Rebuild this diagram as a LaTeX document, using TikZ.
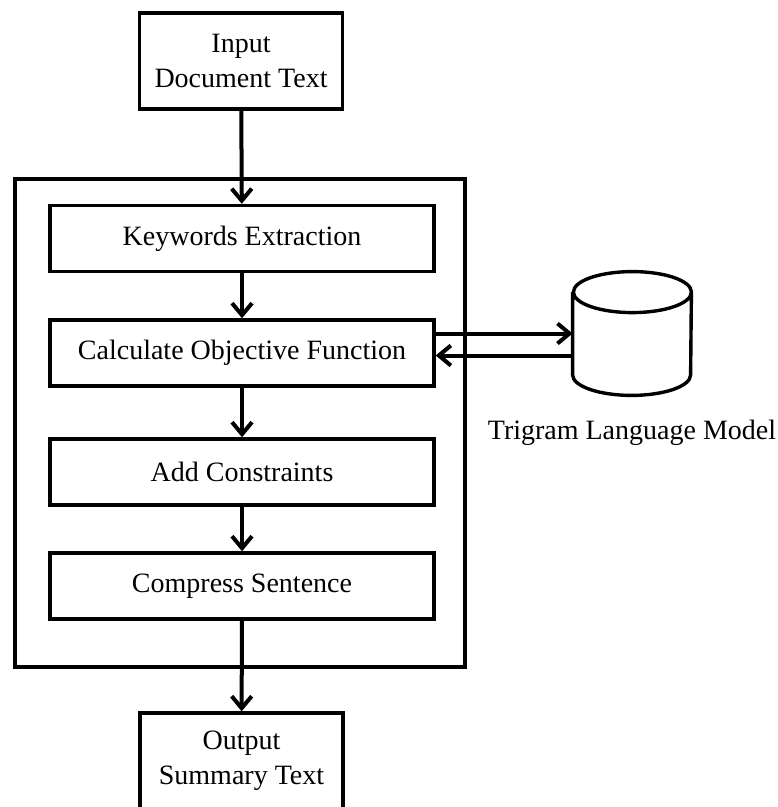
\documentclass[tikz,border=0pt]{standalone}
\usepackage{fontspec}
\setmainfont{Liberation Serif}
\usetikzlibrary{arrows.meta,positioning}

\begin{document}
\begin{tikzpicture}[x=0.5pt, y=-0.5pt,
        every node/.style={font=\fontsize{14}{17.5}\selectfont},
        stepbox/.style={draw, line width=1.7pt, minimum width=192pt, minimum height=33pt, inner sep=0pt},
        iobox/.style={draw, line width=1.7pt, minimum width=101.5pt, minimum height=48pt, align=center, inner sep=0pt},
        flow/.style={line width=2pt, -{Straight Barb[length=6pt, width=10pt, line width=2pt]}}]
    % \draw[help lines] (0,0) grid (777,807);
    \useasboundingbox (0,0) rectangle (777,807);

    % outer frame around the pipeline
    \draw[line width=1.7pt] (15,179) rectangle (465,667);

    \node[iobox] (input) at (241,61) {Input\\Document Text};

    \node[stepbox] (keywords)  at (242,238.5) {Keywords Extraction};
    \node[stepbox] (objective) at (242,353)   {Calculate Objective Function};
    \node[stepbox] (constr)    at (242,472)   {Add Constraints};
    \node[stepbox] (compress)  at (242,586)   {Compress Sentence};

    \node[iobox] (output) at (241.5,761) {Output\\Summary Text};

    % language model store (drawn as a can)
    \node[minimum width=59pt, minimum height=61.5pt, inner sep=0pt] (lm) at (632,333.5) {};
    \draw[line width=1.7pt]
        ([yshift=-10.25pt]lm.north west) -- ([yshift=10.25pt]lm.south west)
        arc[start angle=180, end angle=360, x radius=29.5pt, y radius=10.25pt]
        -- ([yshift=-10.25pt]lm.north east)
        arc[start angle=0, end angle=360, x radius=29.5pt, y radius=10.25pt];
    \node[below=9pt of lm] (lmlabel) {Trigram Language Model};

    \draw[flow] (input) -- (keywords);
    \draw[flow] (keywords) -- (objective);
    \draw[flow] (objective) -- (constr);
    \draw[flow] (constr) -- (compress);
    \draw[flow] (compress) -- (output);

    \draw[flow] (objective.east |- lm.west) -- (lm.west);
    \draw[flow] ([yshift=-11pt]lm.west) -- ([yshift=-11pt]lm.west -| objective.east);
\end{tikzpicture}
\end{document}
